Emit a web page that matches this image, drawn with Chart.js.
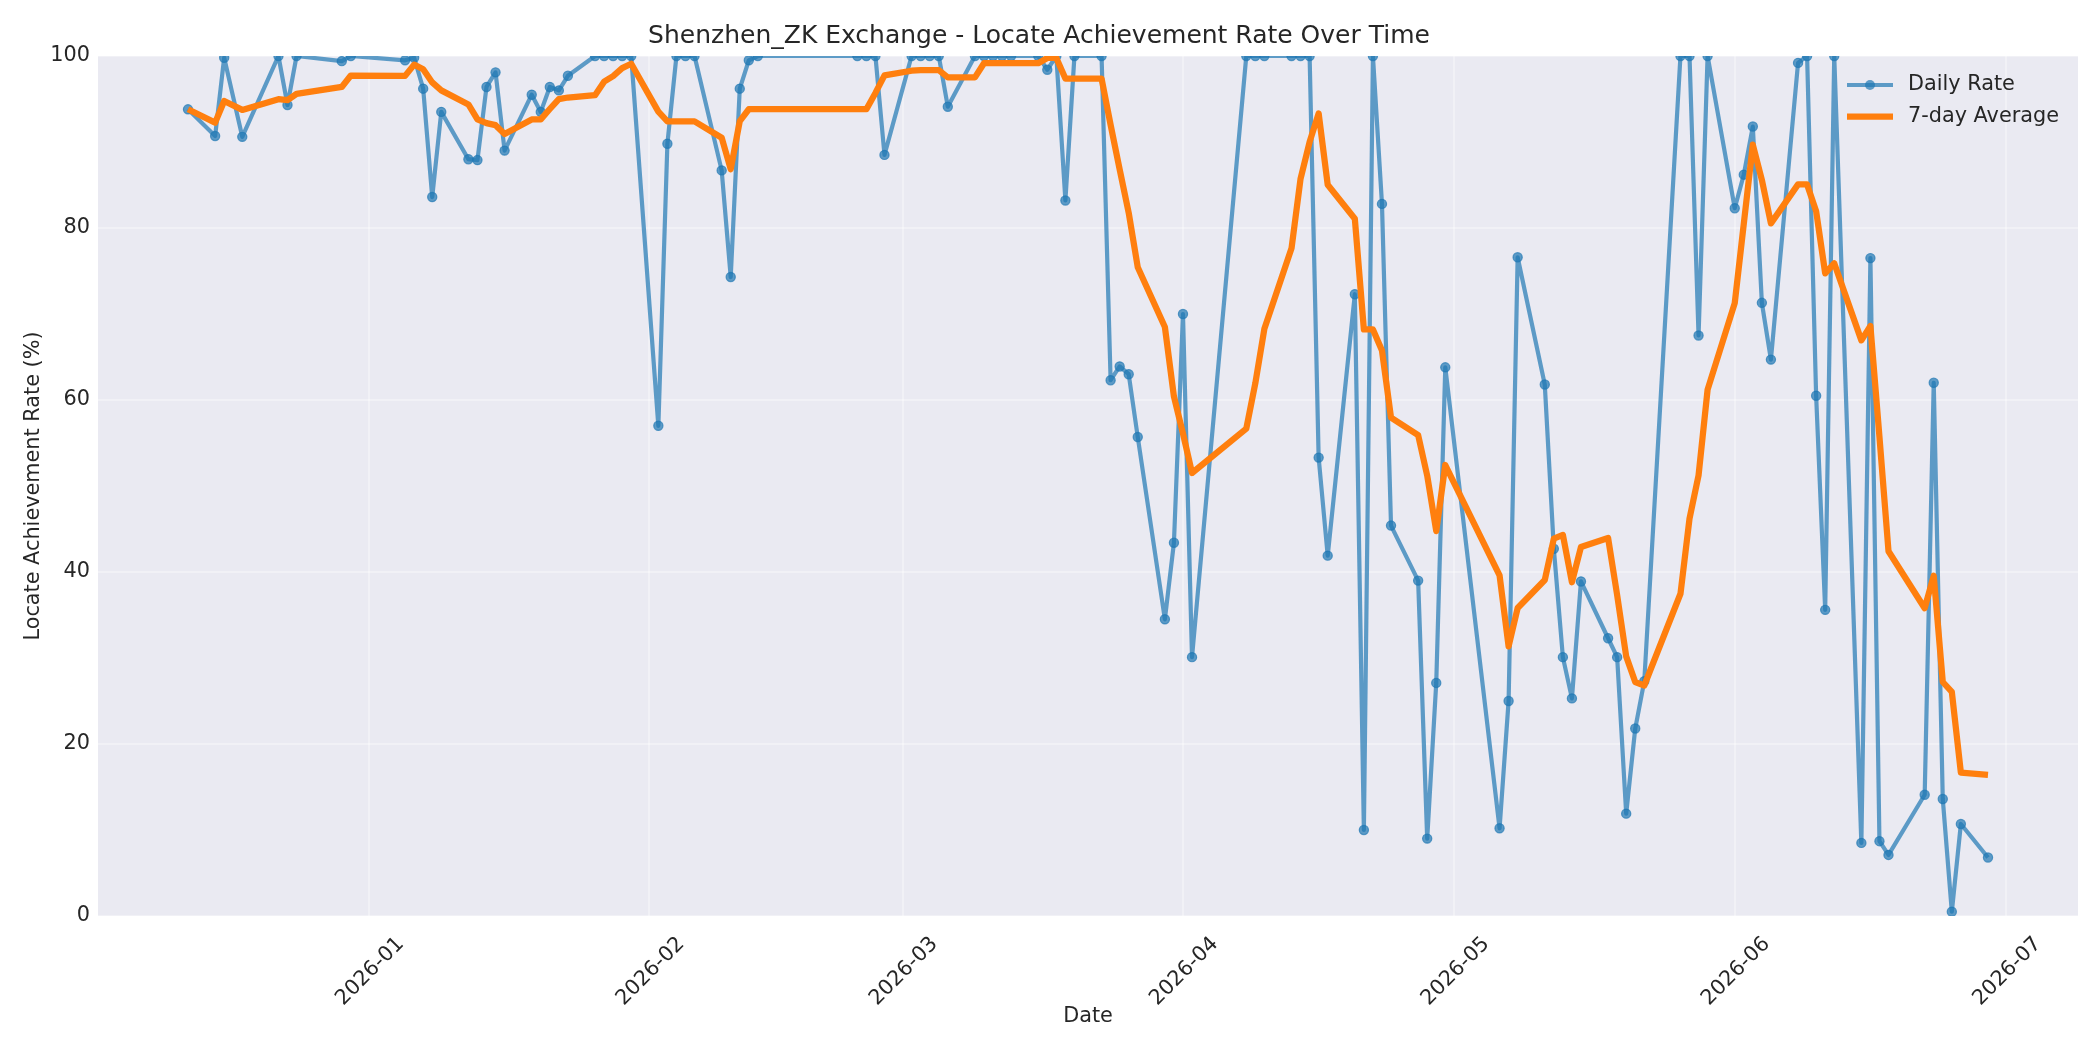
<!DOCTYPE html>
<html>
<head>
<meta charset="utf-8">
<title>Shenzhen_ZK Locate Achievement Rate</title>
<script src="https://cdn.jsdelivr.net/npm/chart.js@4.4.1/dist/chart.umd.min.js"></script>
<style>
	html, body { margin: 0; padding: 0; background: #ffffff; }
	#wrap { width: 2100px; height: 1050px; }
</style>
</head>
<body>
<div id="wrap"><canvas id="myChart" width="2100" height="1050"></canvas></div>
<script type="text/javascript">
// trading days shown on the chart
var dates = [
	'2025-12-12','2025-12-15','2025-12-16','2025-12-18','2025-12-22','2025-12-23','2025-12-24','2025-12-29','2025-12-30',
	'2026-01-05','2026-01-06','2026-01-07','2026-01-08','2026-01-09','2026-01-12','2026-01-13','2026-01-14','2026-01-15','2026-01-16',
	'2026-01-19','2026-01-20','2026-01-21','2026-01-22','2026-01-23','2026-01-26','2026-01-27','2026-01-28','2026-01-29','2026-01-30',
	'2026-02-02','2026-02-03','2026-02-04','2026-02-05','2026-02-06','2026-02-09','2026-02-10','2026-02-11','2026-02-12','2026-02-13',
	'2026-02-24','2026-02-25','2026-02-26','2026-02-27',
	'2026-03-02','2026-03-03','2026-03-04','2026-03-05','2026-03-06','2026-03-09','2026-03-10','2026-03-11','2026-03-12','2026-03-13',
	'2026-03-16','2026-03-17','2026-03-18','2026-03-19','2026-03-20','2026-03-23','2026-03-24','2026-03-25','2026-03-26','2026-03-27',
	'2026-03-30','2026-03-31',
	'2026-04-01','2026-04-02','2026-04-08','2026-04-09','2026-04-10','2026-04-13','2026-04-14','2026-04-15','2026-04-16','2026-04-17',
	'2026-04-20','2026-04-21','2026-04-22','2026-04-23','2026-04-24','2026-04-27','2026-04-28','2026-04-29','2026-04-30',
	'2026-05-06','2026-05-07','2026-05-08','2026-05-11','2026-05-12','2026-05-13','2026-05-14','2026-05-15',
	'2026-05-18','2026-05-19','2026-05-20','2026-05-21','2026-05-22','2026-05-26','2026-05-27','2026-05-28','2026-05-29',
	'2026-06-01','2026-06-02','2026-06-03','2026-06-04','2026-06-05','2026-06-08','2026-06-09','2026-06-10','2026-06-11','2026-06-12',
	'2026-06-15','2026-06-16','2026-06-17','2026-06-18','2026-06-22','2026-06-23','2026-06-24','2026-06-25','2026-06-26','2026-06-29'
];

// daily locate achievement rate (%)
var dailyRate = [
	93.8, 90.7, 99.8, 90.6, 100, 94.3, 100, 99.4, 100,
	99.5, 99.8, 96.2, 83.6, 93.5, 88.0, 87.9, 96.4, 98.1, 89.0, 95.5, 93.5, 96.4, 96.0, 97.7, 100, 100, 100, 100, 100,
	57.0, 89.8, 100, 100, 100, 86.7, 74.3, 96.2, 99.5, 100, 100, 100, 100, 88.5,
	100, 100, 100, 100, 94.1, 100, 100, 100, 100, 100, 100, 98.4, 100, 83.2, 100, 100, 62.3, 63.9, 63.0, 55.7, 34.5, 43.4,
	70.0, 30.1, 100, 100, 100, 100, 100, 100, 53.3, 41.9, 72.3, 10.0, 100, 82.8, 45.4, 39.0, 9.0, 27.1, 63.8,
	10.2, 25.0, 76.6, 61.8, 42.7, 30.1, 25.3, 38.9, 32.3, 30.1, 11.9, 21.8, 27.3, 100, 100, 67.5, 100,
	82.3, 86.2, 91.8, 71.3, 64.7, 99.2, 100, 60.5, 35.6, 100, 8.5, 76.5, 8.7, 7.1, 14.1, 62.0, 13.6, 0.5, 10.7, 6.8
];

// 7-day average line (%)
var avg7 = [
	93.8, 92.25, 94.77, 93.73, 94.98, 94.87, 95.6, 96.4, 97.73,
	97.69, 99.0, 98.46, 96.93, 96.0, 94.37, 92.64, 92.2, 91.96, 90.93, 92.63, 92.63, 93.83, 94.99, 95.17, 95.44, 97.01, 97.66, 98.59, 99.1,
	93.53, 92.4, 92.4, 92.4, 92.4, 90.5, 86.83, 92.43, 93.81, 93.81, 93.81, 93.81, 95.71, 97.74,
	98.29, 98.36, 98.36, 98.36, 97.51, 97.51, 99.16, 99.16, 99.16, 99.16, 99.16, 99.77, 99.77, 97.37, 97.37, 97.37, 91.99, 86.83, 81.77, 75.44, 68.49, 60.4,
	56.11, 51.51, 56.67, 61.96, 68.29, 77.64, 85.73, 90.01, 93.33, 85.03, 81.07, 68.21, 68.21, 65.76, 57.96, 55.91, 51.21, 44.76, 52.44,
	39.61, 31.36, 35.81, 39.07, 43.89, 44.31, 38.81, 42.91, 43.96, 37.31, 30.19, 27.2, 26.8, 37.47, 46.2, 51.23, 61.21,
	71.27, 80.47, 89.69, 85.59, 80.54, 85.07, 85.07, 81.96, 74.73, 75.9, 66.93, 68.61, 55.69, 42.41, 35.79, 39.56, 27.21, 26.07, 16.67, 16.4
];

// x axis ticks
var tickDates = ['2026-01-01','2026-02-01','2026-03-01','2026-04-01','2026-05-01','2026-06-01','2026-07-01'];
var tickLabels = ['2026-01','2026-02','2026-03','2026-04','2026-05','2026-06','2026-07'];

var FONT = 'DejaVu Sans';
var TEXT = '#262626';

// days since 2026-01-01
function dayNum(s) {
	var p = s.split('-');
	return (Date.UTC(+p[0], +p[1] - 1, +p[2]) - Date.UTC(2026, 0, 1)) / 86400000;
}

var dailyPts = [], avgPts = [];
for (var i = 0; i < dates.length; i++) {
	dailyPts.push({x: dayNum(dates[i]), y: dailyRate[i]});
	avgPts.push({x: dayNum(dates[i]), y: avg7[i]});
}
var tickDays = tickDates.map(dayNum);
var first = dayNum(dates[0]), last = dayNum(dates[dates.length - 1]);
var margin = (last - first) * 0.05;

// grey plot background
var bgPlugin = {
	id: 'plotBg',
	beforeDraw: function(chart) {
		var ctx = chart.ctx, a = chart.chartArea;
		ctx.save();
		ctx.fillStyle = '#ffffff';
		ctx.fillRect(0, 0, chart.width, chart.height);
		ctx.fillStyle = '#eaeaf2';
		ctx.fillRect(a.left, a.top, a.right - a.left, a.bottom - a.top);
		ctx.restore();
	}
};

// legend inside the plot, upper right, no frame
var legendPlugin = {
	id: 'innerLegend',
	afterDatasetsDraw: function(chart) {
		var ctx = chart.ctx, a = chart.chartArea;
		var x0 = a.right - 231, x1 = x0 + 46, y0 = a.top + 29, row = 31.5;
		ctx.save();
		ctx.lineCap = 'butt';
		ctx.strokeStyle = 'rgba(31,119,180,0.7)';
		ctx.lineWidth = 4.2;
		ctx.beginPath(); ctx.moveTo(x0, y0); ctx.lineTo(x1, y0); ctx.stroke();
		ctx.fillStyle = 'rgba(31,119,180,0.7)';
		ctx.beginPath(); ctx.arc((x0 + x1) / 2, y0, 5, 0, Math.PI * 2); ctx.fill();
		ctx.strokeStyle = '#ff7f0e';
		ctx.lineWidth = 6.25;
		ctx.beginPath(); ctx.moveTo(x0, y0 + row); ctx.lineTo(x1, y0 + row); ctx.stroke();
		ctx.fillStyle = TEXT;
		ctx.font = '20.8px "' + FONT + '"';
		ctx.textBaseline = 'middle';
		ctx.fillText('Daily Rate', x0 + 61, y0);
		ctx.fillText('7-day Average', x0 + 61, y0 + row);
		ctx.restore();
	}
};

var ctx = document.getElementById('myChart').getContext('2d');
var chart = new Chart(ctx, {
	type: 'line',
	data: {
		datasets: [{
			label: 'Daily Rate',
			data: dailyPts,
			borderColor: 'rgba(31,119,180,0.7)',
			backgroundColor: 'rgba(31,119,180,0.7)',
			pointBackgroundColor: 'rgba(31,119,180,0.7)',
			pointBorderColor: 'rgba(31,119,180,0.7)',
			borderWidth: 4.2,
			pointRadius: 4.6,
			pointBorderWidth: 1.2,
			borderJoinStyle: 'round',
			tension: 0,
			clip: 0,
			order: 2
		}, {
			label: '7-day Average',
			data: avgPts,
			borderColor: '#ff7f0e',
			backgroundColor: '#ff7f0e',
			borderWidth: 6.25,
			pointRadius: 0,
			borderJoinStyle: 'round',
			tension: 0,
			clip: 0,
			order: 1
		}]
	},
	options: {
		responsive: false,
		devicePixelRatio: 1,
		animation: false,
		events: [],
		layout: {padding: {left: 0, right: 22, top: 0, bottom: 0}},
		plugins: {
			legend: {display: false},
			tooltip: {enabled: false},
			title: {
				display: true,
				text: 'Shenzhen_ZK Exchange - Locate Achievement Rate Over Time',
				color: TEXT,
				font: {family: FONT, size: 25, weight: 'normal'},
				padding: {top: 21, bottom: 5}
			}
		},
		scales: {
			x: {
				type: 'linear',
				min: first - margin,
				max: last + margin,
				afterBuildTicks: function(scale) {
					scale.ticks = tickDays.map(function(v) { return {value: v}; });
				},
				afterFit: function(scale) { scale.height = 134; },
				grid: {color: 'rgba(255,255,255,0.35)', lineWidth: 2, drawTicks: false},
				border: {display: false},
				ticks: {
					autoSkip: false,
					maxRotation: 45,
					minRotation: 45,
					padding: 16,
					labelOffset: 32,
					color: TEXT,
					font: {family: FONT, size: 20.8},
					callback: function(v) {
						var k = tickDays.indexOf(v);
						return k >= 0 ? tickLabels[k] : '';
					}
				},
				title: {
					display: true,
					text: 'Date',
					color: TEXT,
					font: {family: FONT, size: 20.8},
					padding: {top: 0, bottom: 21}
				}
			},
			y: {
				min: 0,
				max: 100,
				afterFit: function(scale) { scale.width = 98; },
				grid: {color: 'rgba(255,255,255,0.35)', lineWidth: 2, drawTicks: false},
				border: {display: false},
				ticks: {
					stepSize: 20,
					padding: 8,
					color: TEXT,
					font: {family: FONT, size: 20.8}
				},
				title: {
					display: true,
					text: 'Locate Achievement Rate (%)',
					color: TEXT,
					font: {family: FONT, size: 20.8},
					padding: {top: 21, bottom: 0}
				}
			}
		}
	},
	plugins: [bgPlugin, legendPlugin]
});
</script>
</body>
</html>
